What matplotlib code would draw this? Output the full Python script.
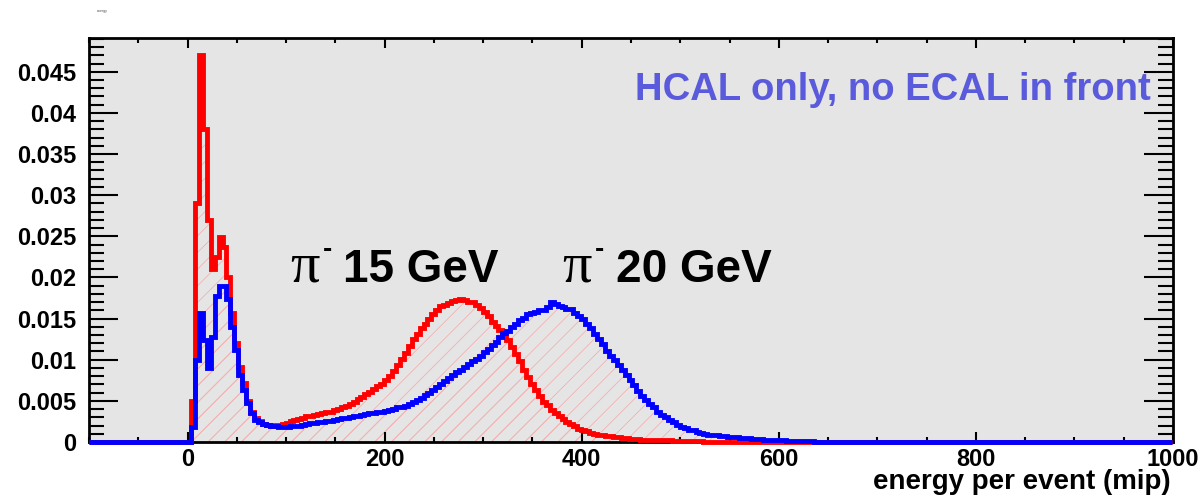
import numpy as np
import matplotlib
matplotlib.use("Agg")
import matplotlib.pyplot as plt
from matplotlib.ticker import MultipleLocator, FixedLocator

plt.rcParams['font.family'] = ['Liberation Sans', 'DejaVu Sans']
plt.rcParams['hatch.linewidth'] = 0.6

# histogram bins: width 4 mip, first filled bin starts at 3.5 mip
bin_width = 4
first_edge = 3.5

# pi- 15 GeV (red), normalised counts per bin
pi15 = [0.0050, 0.0290, 0.0470, 0.0380, 0.0270, 0.0210, 0.0225, 0.0249, 0.0237, 0.0200,
        0.0157, 0.0120, 0.0091, 0.0072, 0.0050, 0.0036, 0.0029, 0.0025,
        0.0022, 0.0021, 0.0020, 0.0021, 0.0021, 0.0022, 0.0023, 0.0025, 0.0027, 0.0028,
        0.0029, 0.0031, 0.0032, 0.0033, 0.0034, 0.0035, 0.0036, 0.0037, 0.0039, 0.0040,
        0.0042, 0.0044, 0.0046, 0.0049, 0.0052, 0.0055, 0.0058, 0.0061, 0.0065, 0.0068,
        0.0071, 0.0075, 0.0080, 0.0086, 0.0094, 0.0101, 0.0108, 0.0117, 0.0125, 0.0131,
        0.0138, 0.0144, 0.0150, 0.0155, 0.0160, 0.0165, 0.0166, 0.0169, 0.0171, 0.0172,
        0.0174, 0.0173, 0.0170, 0.0170, 0.0166, 0.0163, 0.0158, 0.0153, 0.0146, 0.0141,
        0.0136, 0.0129, 0.0124, 0.0116, 0.0107, 0.0099, 0.0088, 0.0079, 0.0070, 0.0063,
        0.0056, 0.0049, 0.0045, 0.0039, 0.0035, 0.0031, 0.0028, 0.0024, 0.0022, 0.0019,
        0.0016, 0.0015, 0.0013, 0.0011, 0.0010, 0.0009, 0.0008, 0.0007, 0.0007, 0.0006,
        0.0006, 0.0005, 0.0005, 0.0004, 0.0004, 0.0004, 0.0003, 0.0003, 0.0003, 0.0002,
        0.0002, 0.0002, 0.0002, 0.0002, 0.0001, 0.0001, 0.0001, 0.0001, 0.0001, 0.0001,
        0.0001, 0.0001, 0.00005, 0.00005, 0.00005, 0.00005, 0.00005, 0.00005]

# pi- 20 GeV (blue)
pi20 = [0.0018, 0.0100, 0.0157, 0.0124, 0.0090, 0.0128, 0.0178, 0.0190, 0.0189, 0.0174,
        0.0140, 0.0112, 0.0081, 0.0063, 0.0047, 0.0035, 0.0027, 0.0024,
        0.0022, 0.0021, 0.0020, 0.0019, 0.0018, 0.0018, 0.0018, 0.0019, 0.0019, 0.0020,
        0.0021, 0.0022, 0.0023, 0.0023, 0.0024, 0.0024, 0.0025, 0.0026, 0.0027, 0.0028,
        0.0029, 0.0029, 0.0030, 0.0031, 0.0032, 0.0033, 0.0034, 0.0035, 0.0035, 0.0036,
        0.0037, 0.0038, 0.0039, 0.0040, 0.0042, 0.0043, 0.0044, 0.0046, 0.0048, 0.0051,
        0.0054, 0.0057, 0.0060, 0.0063, 0.0067, 0.0071, 0.0074, 0.0078, 0.0081, 0.0085,
        0.0088, 0.0091, 0.0095, 0.0098, 0.0101, 0.0105, 0.0109, 0.0113, 0.0118, 0.0121,
        0.0127, 0.0132, 0.0135, 0.0140, 0.0144, 0.0148, 0.0151, 0.0155, 0.0157, 0.0158,
        0.0160, 0.0161, 0.0164, 0.0170, 0.0168, 0.0165, 0.0164, 0.0162, 0.0162, 0.0157,
        0.0153, 0.0149, 0.0143, 0.0138, 0.0131, 0.0125, 0.0119, 0.0111, 0.0105, 0.0100,
        0.0093, 0.0088, 0.0081, 0.0075, 0.0069, 0.0062, 0.0056, 0.0051, 0.0046, 0.0042,
        0.0037, 0.0033, 0.0030, 0.0027, 0.0024, 0.0021, 0.0018, 0.0017, 0.0015, 0.0014,
        0.0012, 0.0011, 0.0010, 0.0009, 0.0009, 0.0008, 0.0007, 0.0007, 0.0006, 0.0006,
        0.0006, 0.0005, 0.0005, 0.0005, 0.0004, 0.0004, 0.0004, 0.0003, 0.0003, 0.0003,
        0.0002, 0.0002, 0.0002, 0.0001, 0.0001, 0.0001, 0.0001, 0.0001, 0.0001, 0.0001,
        0.00005, 0.00005, 0.00005, 0.00005, 0.00005]

xticks = [0, 200, 400, 600, 800, 1000]
yticks = [0, 0.005, 0.01, 0.015, 0.02, 0.025, 0.03, 0.035, 0.04, 0.045]
ylabels = ['0', '0.005', '0.01', '0.015', '0.02', '0.025', '0.03', '0.035', '0.04', '0.045']

edges = np.arange(-100.5, 1000.0, bin_width)
n_before = int(round((first_edge - edges[0]) / bin_width))


def full_hist(vals):
    h = np.zeros(len(edges) - 1)
    h[n_before:n_before + len(vals)] = vals
    return h


h15 = full_hist(pi15)
h20 = full_hist(pi20)

fig = plt.figure(figsize=(11.98, 4.95), dpi=100)
ax = fig.add_axes([0.0743, 0.1071, 0.9048, 0.8161])
ax.set_facecolor('#e5e5e5')

hatch_col = '#f4b0b0'
ax.stairs(h20, edges, fill=True, facecolor='none', edgecolor=hatch_col, hatch='//', lw=0, zorder=1)
ax.stairs(h15, edges, fill=True, facecolor='none', edgecolor=hatch_col, hatch='//', lw=0, zorder=1)
ax.stairs(h15, edges, color='#ff0000', lw=3.5, zorder=3, clip_on=False)
ax.stairs(h20, edges, color='#0000ff', lw=3.5, zorder=4, clip_on=False)

ax.set_xlim(-100, 1000)
ax.set_ylim(0, 0.0491)

ax.xaxis.set_major_locator(FixedLocator(xticks))
ax.xaxis.set_minor_locator(MultipleLocator(50))
ax.yaxis.set_major_locator(FixedLocator(yticks))
ax.yaxis.set_minor_locator(MultipleLocator(0.001))
ax.set_yticklabels(ylabels)

ax.tick_params(axis='both', which='both', direction='in', top=True, right=True,
               width=1.5, labelsize=17)
ax.tick_params(axis='x', which='major', length=7.2, pad=4)
ax.tick_params(axis='x', which='minor', length=3.6)
ax.tick_params(axis='y', which='major', length=21, pad=9)
ax.tick_params(axis='y', which='minor', length=11)
for lab in ax.get_xticklabels() + ax.get_yticklabels():
    lab.set_fontweight('bold')

for sp in ax.spines.values():
    sp.set_linewidth(2)
    sp.set_zorder(2.5)

# labels on the peaks
ax.text(104, 0.01946, 'π', fontsize=42, family='Liberation Serif', va='baseline')
ax.text(137, 0.0225, '-', fontsize=20, fontweight='bold', va='baseline')
ax.text(158, 0.01946, '15 GeV', fontsize=33, fontweight='bold', va='baseline')
ax.text(380, 0.01946, 'π', fontsize=42, family='Liberation Serif', va='baseline')
ax.text(413, 0.0225, '-', fontsize=20, fontweight='bold', va='baseline')
ax.text(435, 0.01946, '20 GeV', fontsize=33, fontweight='bold', va='baseline')

ax.text(977, 0.0416, 'HCAL only, no ECAL in front', fontsize=27.5, fontweight='bold',
        color='#5a5adc', ha='right', va='baseline')

fig.text(0.977, 0.012, 'energy per event (mip)', fontsize=20, fontweight='bold',
         ha='right', va='baseline')
fig.text(0.081, 0.975, 'energy', fontsize=2.5, color='0.3')

fig.savefig('out.png', dpi=100)
